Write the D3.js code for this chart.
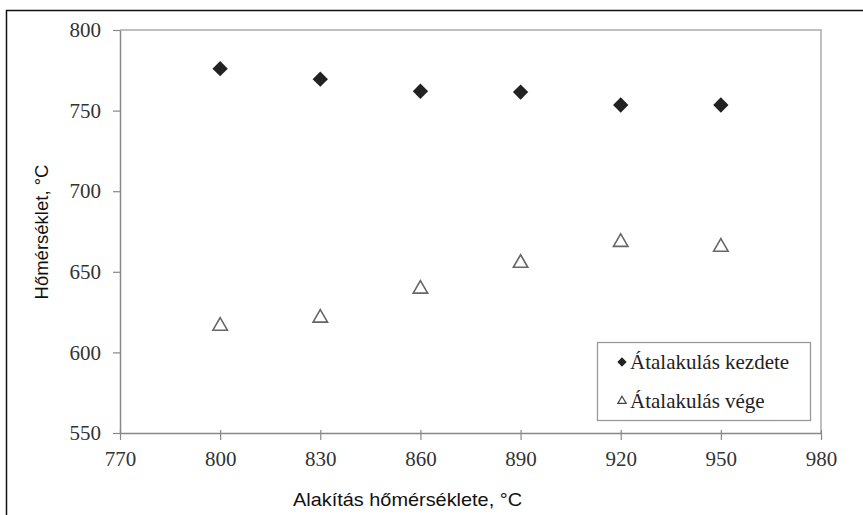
<!DOCTYPE html>
<html><head><meta charset="utf-8">
<script src="https://cdn.jsdelivr.net/npm/d3@7"></script>
<style>body{margin:0;background:#fff}svg{display:block}
.serif{font-family:"Liberation Serif","Times New Roman",serif}
.sans{font-family:"Liberation Sans",Arial,sans-serif}
</style>
</head><body>
<svg id="c" width="863" height="515"></svg>
<script>
const xValues = [800, 830, 860, 890, 920, 950];
const startTemps = [776, 769.5, 762, 761.5, 753.5, 753.5];
const endTemps = [617, 622, 640, 656, 669, 666];
const xTicks = [770, 800, 830, 860, 890, 920, 950, 980];
const yTicks = [550, 600, 650, 700, 750, 800];
const seriesNames = ["Átalakulás kezdete", "Átalakulás vége"];
const xTitle = "Alakítás hőmérséklete, °C";
const yTitle = "Hőmérséklet, °C";

const svg = d3.select("#c");
const L = 120, R = 821, T = 30, B = 433;
const x = d3.scaleLinear().domain([770, 980]).range([L, R]);
const y = d3.scaleLinear().domain([550, 800]).range([B, T]);

// outer frame
svg.append("rect").attr("x", 6.5).attr("y", 10.5).attr("width", 900).attr("height", 600)
  .attr("fill", "none").attr("stroke", "#111").attr("stroke-width", 1.5);

// plot frame (top/right)
svg.append("path").attr("d", `M${L},${T}H${R}V${B}`).attr("fill", "none")
  .attr("stroke", "#aaa").attr("stroke-width", 1.5);

// y axis
const ya = svg.append("g").attr("transform", `translate(${L},0)`)
  .call(d3.axisLeft(y).tickValues(yTicks).tickSize(7).tickPadding(12).tickSizeOuter(0));
ya.attr("font-family", null).attr("font-size", null);
ya.select(".domain").attr("stroke", "#888").attr("stroke-width", 1.5);
ya.selectAll(".tick line").attr("stroke", "#888").attr("stroke-width", 1.2);
ya.selectAll("text").attr("class", "serif").style("font-size", "21px").attr("fill", "#333");

// x axis
const xa = svg.append("g").attr("transform", `translate(0,${B})`)
  .call(d3.axisBottom(x).tickValues(xTicks).tickSize(7).tickPadding(11).tickSizeOuter(0));
xa.attr("font-family", null).attr("font-size", null);
xa.select(".domain").attr("stroke", "#888").attr("stroke-width", 1.5);
xa.selectAll(".tick line").attr("stroke", "#888").attr("stroke-width", 1.2).attr("y1", -3);
xa.selectAll("text").attr("class", "serif").style("font-size", "21px").attr("fill", "#333");

// titles
svg.append("text").attr("class", "sans").attr("x", 293).attr("y", 506).style("font-size", "19px")
  .attr("textLength", 229).attr("lengthAdjust", "spacingAndGlyphs")
  .attr("fill", "#111").text(xTitle);
svg.append("text").attr("class", "sans").attr("transform", `translate(48,232) rotate(-90)`).attr("text-anchor", "middle")
  .style("font-size", "18.5px").attr("fill", "#111").text(yTitle);

const diamond = d3.symbol().type(d3.symbolDiamond2);
const triangle = d3.symbol().type(d3.symbolTriangle2);

// series 1: diamonds
svg.append("g").selectAll("path").data(xValues).join("path")
  .attr("transform", (d, i) => `translate(${x(d)},${y(startTemps[i])})`)
  .attr("d", diamond.size(150)()).attr("fill", "#222");

// series 2: open triangles
svg.append("g").selectAll("path").data(xValues).join("path")
  .attr("transform", (d, i) => `translate(${x(d)},${y(endTemps[i]) + 1})`)
  .attr("d", triangle.size(150)()).attr("fill", "none").attr("stroke", "#666").attr("stroke-width", 1.6);

// legend
const lg = svg.append("g");
lg.append("rect").attr("x", 597.5).attr("y", 342.5).attr("width", 213).attr("height", 78)
  .attr("fill", "#fff").attr("stroke", "#999").attr("stroke-width", 1.3);
lg.append("path").attr("transform", "translate(622,362)").attr("d", diamond.size(55)()).attr("fill", "#222");
lg.append("path").attr("transform", "translate(622,401)").attr("d", triangle.size(50)())
  .attr("fill", "none").attr("stroke", "#444").attr("stroke-width", 1.2);
lg.append("text").attr("class", "serif").attr("x", 630).attr("y", 369).style("font-size", "21px")
  .attr("fill", "#222").text(seriesNames[0]);
lg.append("text").attr("class", "serif").attr("x", 630).attr("y", 408).style("font-size", "21px")
  .attr("fill", "#222").text(seriesNames[1]);
</script>
</body></html>
